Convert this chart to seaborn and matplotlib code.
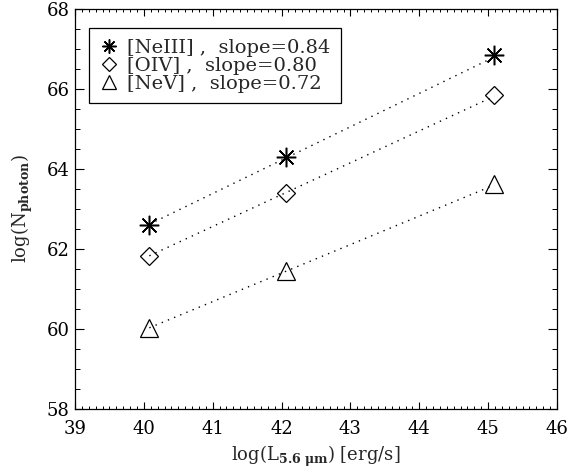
import numpy as np
import pandas as pd
import matplotlib
matplotlib.use("Agg")
import matplotlib.pyplot as plt
import seaborn as sns
from matplotlib.ticker import MultipleLocator
from matplotlib.lines import Line2D

# ---- data ----
lum = [40.08, 42.07, 45.09]                 # log(L_5.6um) [erg/s]
neiii = [62.60, 64.30, 66.84]
oiv = [61.83, 63.40, 65.84]
nev = [60.02, 61.44, 63.62]
fit_x = [40.08, 45.09]
neiii_fit = [62.62, 66.80]
oiv_fit = [61.83, 65.82]
nev_fit = [60.03, 63.60]
line_names = ["[NeIII]", "[OIV]", "[NeV]"]
slopes = ["0.84", "0.80", "0.72"]
x_ticks = [39, 40, 41, 42, 43, 44, 45, 46]
y_ticks = [58, 60, 62, 64, 66, 68]

sns.set_theme(style="ticks")
plt.rcParams["font.family"] = ["DejaVu Serif", "DejaVu Sans"]
plt.rcParams["mathtext.fontset"] = "dejavuserif"

fig = plt.figure(figsize=(5.71, 4.68), dpi=100)
ax = fig.add_axes([75 / 571, 1 - 409 / 468, 482 / 571, 400 / 468])

markers = [(8, 2, 0), "D", "^"]
msizes = [14, 9.4, 13.3]
mews = [1.1, 0.9, 0.9]
series = [neiii, oiv, nev]
fits = [neiii_fit, oiv_fit, nev_fit]

for ys, fy, mk, ms, mw in zip(series, fits, markers, msizes, mews):
    sns.lineplot(x=fit_x, y=fy, ax=ax, color="black", linewidth=1.0,
                 linestyle=(0, (1.0, 3.8)))
    sns.lineplot(x=lum, y=ys, ax=ax, color="black", linestyle="",
                 marker=mk, markersize=ms, markerfacecolor="none",
                 markeredgecolor="black", markeredgewidth=mw)

ax.set_xlim(39, 46)
ax.set_ylim(58, 68)
ax.set_xticks(x_ticks)
ax.set_yticks(y_ticks)
ax.xaxis.set_minor_locator(MultipleLocator(0.1))
ax.yaxis.set_minor_locator(MultipleLocator(0.5))
ax.tick_params(axis="both", which="both", direction="in", top=True, right=True,
               colors="black", labelsize=13)
ax.tick_params(axis="x", which="major", length=5, width=0.8, pad=8)
ax.tick_params(axis="x", which="minor", length=2.5, width=0.7)
ax.tick_params(axis="y", which="major", length=6.8, width=0.8, pad=4)
ax.tick_params(axis="y", which="minor", length=3.6, width=0.7)
for sp in ax.spines.values():
    sp.set_color("black")
    sp.set_linewidth(0.9)

ax.set_xlabel(r"log(L$_{\mathbf{5.6\ \mu m}}$) [erg/s]", fontsize=13, labelpad=4)
ax.set_ylabel(r"log(N$_{\mathbf{photon}}$)", fontsize=13, labelpad=8)

handles = [Line2D([], [], linestyle="", marker=mk, markersize=ms * 0.72,
                  markerfacecolor="none", markeredgecolor="black",
                  markeredgewidth=mw)
           for mk, ms, mw in zip(markers, msizes, mews)]
labels = [f"{n} ,  slope={s}" for n, s in zip(line_names, slopes)]
leg = ax.legend(handles, labels, loc="upper left",
                bbox_to_anchor=(14 / 482, (409 - 28) / 400), borderaxespad=0,
                frameon=True, fancybox=False, framealpha=1, edgecolor="black",
                fontsize=14, labelspacing=0.0, borderpad=0.55,
                handlelength=1.0, handletextpad=0.4)
leg.get_frame().set_linewidth(0.9)

fig.savefig("out.png", dpi=100)
